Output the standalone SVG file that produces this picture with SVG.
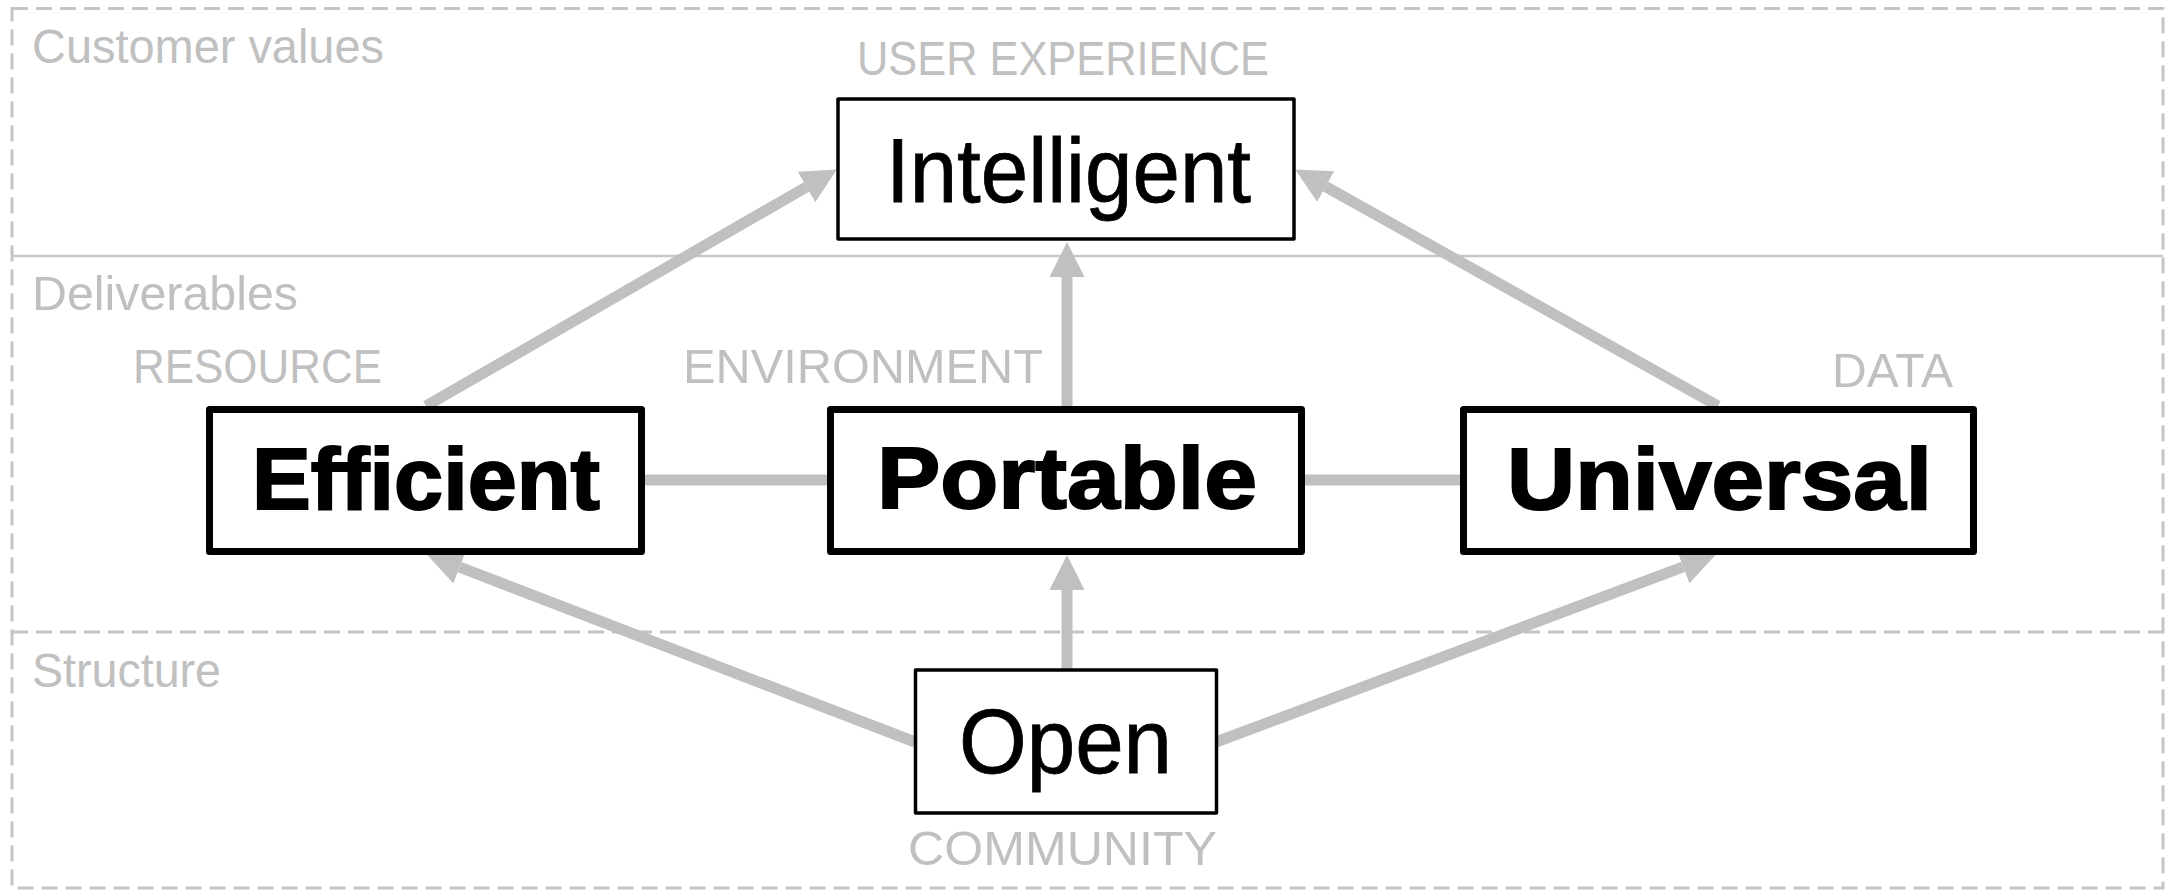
<svg xmlns="http://www.w3.org/2000/svg" width="2176" height="891" viewBox="0 0 2176 891">
<style>
.lane{fill:none;stroke:#c4c4c4;stroke-width:3;stroke-dasharray:16 8}
.sep{stroke:#c8c8c8;stroke-width:2.5}
.lbl{font-family:"Liberation Sans",Arial,sans-serif;font-size:48px;fill:#c0c0c0}
.conn{stroke:#c0c0c0;stroke-width:11;fill:none}
.thin{fill:#fff;stroke:#000;stroke-width:3.5;stroke-linejoin:round}
.thick{fill:#fff;stroke:#000;stroke-width:7;stroke-linejoin:round}
.nb{font-family:"Liberation Sans",Arial,sans-serif;font-size:88px;font-weight:bold;fill:#000;stroke:#000;stroke-width:2}
.nr{font-family:"Liberation Sans",Arial,sans-serif;font-size:90px;fill:#000;stroke:#000;stroke-width:0.8}
</style>
<defs>
<marker id="ah" markerUnits="userSpaceOnUse" markerWidth="36" markerHeight="36" refX="0" refY="17.5" orient="auto" viewBox="0 0 36 36">
<path d="M0,0 L35,17.5 L0,35 Z" fill="#c0c0c0"/>
</marker>
</defs>
<g id="lanes">
<rect class="lane" x="12" y="8.5" width="2151" height="879.5"/>
<line class="sep" x1="12" y1="256" x2="2163" y2="256"/>
<line class="lane" x1="12" y1="632" x2="2163" y2="632"/>
<text class="lbl" x="32" y="63" textLength="352" lengthAdjust="spacingAndGlyphs">Customer values</text>
<text class="lbl" x="32" y="310" textLength="266" lengthAdjust="spacingAndGlyphs">Deliverables</text>
<text class="lbl" x="32" y="687" textLength="189" lengthAdjust="spacingAndGlyphs">Structure</text>
</g>
<g id="connectors">
<line class="conn" x1="426" y1="406" x2="806.5" y2="187"  marker-end="url(#ah)"/>
<line class="conn" x1="1718" y1="406" x2="1325.7" y2="186.6" marker-end="url(#ah)"/>
<line class="conn" x1="1067" y1="406" x2="1067" y2="277" marker-end="url(#ah)"/>
<line class="conn" x1="1067" y1="670" x2="1067" y2="590" marker-end="url(#ah)"/>
<line class="conn" x1="915" y1="742" x2="459.7" y2="567.2" marker-end="url(#ah)"/>
<line class="conn" x1="1216" y1="742" x2="1683.2" y2="566.9" marker-end="url(#ah)"/>
<line class="conn" x1="645" y1="480" x2="827" y2="480"/>
<line class="conn" x1="1305" y1="480" x2="1460" y2="480"/>
</g>
<g id="intelligent">
<text class="lbl" x="857" y="75" textLength="412" lengthAdjust="spacingAndGlyphs">USER EXPERIENCE</text>
<rect class="thin" x="838" y="99" width="456" height="140"/>
<text class="nr" x="886" y="202" textLength="365" lengthAdjust="spacingAndGlyphs">Intelligent</text>
</g>
<g id="efficient">
<text class="lbl" x="133" y="383" textLength="249" lengthAdjust="spacingAndGlyphs">RESOURCE</text>
<rect class="thick" x="209.5" y="409.5" width="432" height="142"/>
<text class="nb" x="252" y="509" textLength="348" lengthAdjust="spacingAndGlyphs">Efficient</text>
</g>
<g id="portable">
<text class="lbl" x="683" y="383" textLength="360" lengthAdjust="spacingAndGlyphs">ENVIRONMENT</text>
<rect class="thick" x="830.5" y="409.5" width="471" height="142"/>
<text class="nb" x="877" y="508" textLength="380" lengthAdjust="spacingAndGlyphs">Portable</text>
</g>
<g id="universal">
<text class="lbl" x="1832" y="387" textLength="121" lengthAdjust="spacingAndGlyphs">DATA</text>
<rect class="thick" x="1463.5" y="409.5" width="510" height="142"/>
<text class="nb" x="1507" y="509" textLength="425" lengthAdjust="spacingAndGlyphs">Universal</text>
</g>
<g id="open">
<rect class="thin" x="915.5" y="670" width="301" height="143"/>
<text class="nr" x="959" y="773" textLength="213" lengthAdjust="spacingAndGlyphs">Open</text>
<text class="lbl" x="908" y="865" textLength="309" lengthAdjust="spacingAndGlyphs">COMMUNITY</text>
</g>
</svg>
